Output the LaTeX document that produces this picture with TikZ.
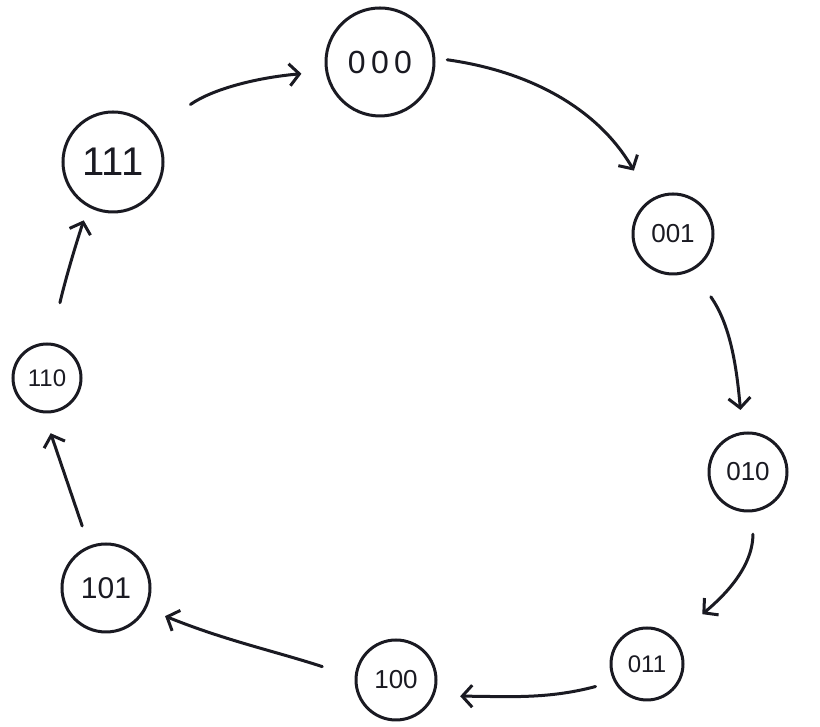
\documentclass[tikz,border=0pt]{standalone}
\usepackage{fontspec}
\setsansfont{Liberation Sans}
\usetikzlibrary{arrows.meta}
\definecolor{ink}{HTML}{1A1A22}
\begin{document}
\begin{tikzpicture}[x=1pt,y=1pt,
  state/.style={draw=ink, circle, line width=3pt, inner sep=0pt, text=ink},
  trans/.style={draw=ink, line width=3pt, line cap=round,
    -{Straight Barb[length=10pt,width=22pt]}}]
\useasboundingbox[fill=white] (0,0) rectangle (820,727);
% states
\node[state, minimum size=108pt, font=\sffamily\fontsize{32}{34}\selectfont] (n000) at (380,665) {0\,0\,0};
\node[state, minimum size=100pt, font=\sffamily\fontsize{40}{42}\selectfont] (n111) at (113,565) {111};
\node[state, minimum size=80pt, font=\sffamily\fontsize{26}{28}\selectfont] (n001) at (673,493) {001};
\node[state, minimum size=68pt, font=\sffamily\fontsize{24}{26}\selectfont] (n110) at (47,349) {110};
\node[state, minimum size=78pt, font=\sffamily\fontsize{26}{28}\selectfont] (n010) at (748,255) {010};
\node[state, minimum size=72pt, font=\sffamily\fontsize{24}{26}\selectfont] (n011) at (647,63) {011};
\node[state, minimum size=80pt, font=\sffamily\fontsize{26}{28}\selectfont] (n100) at (396,47) {100};
\node[state, minimum size=88pt, font=\sffamily\fontsize{30}{32}\selectfont] (n101) at (106,139) {101};
% transitions
\draw[trans, shorten <=45pt, shorten >=24pt] (n111.38) to[out=35,in=185] (n000.190);
\draw[trans, shorten <=12pt, shorten >=33pt] (n000.4) to[out=-8,in=120] (n001.123);
\draw[trans, shorten <=32pt, shorten >=22pt] (n001.-62) to[out=-55,in=95] (n010.98);
\draw[trans, shorten <=22pt, shorten >=37pt] (n010.-83) to[out=-90,in=40] (n011.44);
\draw[trans, shorten <=19pt, shorten >=26pt] (n011.208) to[out=195,in=0] (n100.-23);
\draw[trans, shorten <=34pt, shorten >=20pt] (n100.176) to[out=162,in=-22] (n101.-27);
\draw[trans, shorten <=21pt, shorten >=21pt] (n101.112) -- (n110.-95);
\draw[trans, shorten <=41pt, shorten >=14pt] (n110.84) to[out=77,in=-108] (n111.-119);
\end{tikzpicture}
\end{document}
